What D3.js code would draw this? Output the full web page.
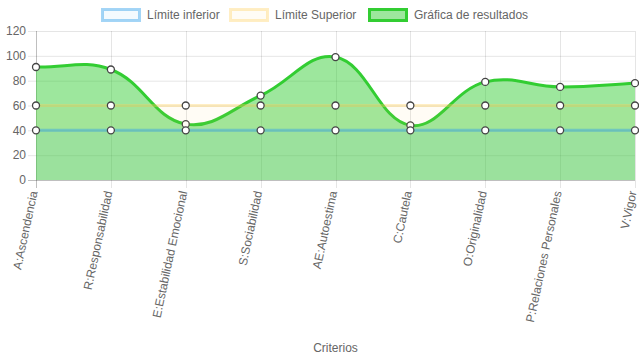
<!DOCTYPE html>
<html><head><meta charset="utf-8">
<script src="https://cdn.jsdelivr.net/npm/d3@7/dist/d3.min.js"></script>
<style>body{margin:0;background:#fff}svg{display:block;font-family:"Liberation Sans",Arial,sans-serif}</style>
</head><body><svg id="c" width="639" height="360"></svg>
<script>
const categories = ["A:Ascendencia","R:Responsabilidad","E:Estabilidad Emocional","S:Sociabilidad","AE:Autoestima","C:Cautela","O:Originalidad","P:Relaciones Personales","V:Vigor"];
const lowerLimit = [40,40,40,40,40,40,40,40,40];
const upperLimit = [60,60,60,60,60,60,60,60,60];
const results = [91,89,45,68,99,44,79,75,78];
const yTicks = [0,20,40,60,80,100,120];
const seriesNames = ["Límite inferior","Límite Superior","Gráfica de resultados"];

const svg = d3.select("#c");
const L = 36, R = 635, T = 31, B = 180;
const x = d3.scalePoint().domain(categories).range([L, R]);
const y = d3.scaleLinear().domain([0,120]).range([B, T]);
const txt = "#666";

// grid
const g = svg.append("g");
yTicks.forEach(v => {
  g.append("line").attr("x1", L-8).attr("x2", R).attr("y1", y(v)+0.5).attr("y2", y(v)+0.5)
   .attr("stroke", v===0 ? "rgba(0,0,0,0.25)" : "rgba(0,0,0,0.1)");
  g.append("text").attr("x", L-10).attr("y", y(v)).attr("dy","0.35em").attr("text-anchor","end")
   .attr("fill", txt).attr("font-size", 12).text(v);
});
categories.forEach((c,i) => {
  const xx = Math.round(x(c))+0.5;
  g.append("line").attr("x1", xx).attr("x2", xx).attr("y1", T).attr("y2", B+8)
   .attr("stroke", i===0 ? "rgba(0,0,0,0.25)" : "rgba(0,0,0,0.1)");
  g.append("text").attr("transform", `translate(${x(c)-2.5},${B+11}) rotate(-78)`)
   .attr("text-anchor","end").attr("dy","0.35em").attr("fill", txt).attr("font-size", 12).text(c);
});
svg.append("text").attr("x", (L+R)/2).attr("y", 352).attr("text-anchor","middle")
  .attr("fill", txt).attr("font-size", 12).text("Criterios");

// Chart.js-style spline
function splinePath(vals) {
  const pts = vals.map((v,i) => ({x: x(categories[i]), y: y(v)}));
  const t = 0.4;
  pts.forEach((p,i) => {
    const a = pts[Math.max(0,i-1)], b = pts[Math.min(pts.length-1,i+1)];
    const d01 = Math.hypot(p.x-a.x, p.y-a.y), d12 = Math.hypot(b.x-p.x, b.y-p.y);
    let s01 = d01/(d01+d12), s12 = d12/(d01+d12);
    if (isNaN(s01)) s01 = 0; if (isNaN(s12)) s12 = 0;
    const fa = t*s01, fb = t*s12;
    p.px = p.x - fa*(b.x-a.x); p.py = p.y - fa*(b.y-a.y);
    p.nx = p.x + fb*(b.x-a.x); p.ny = p.y + fb*(b.y-a.y);
    p.px = Math.max(L, Math.min(R, p.px)); p.nx = Math.max(L, Math.min(R, p.nx));
    p.py = Math.max(T, Math.min(B, p.py)); p.ny = Math.max(T, Math.min(B, p.ny));
  });
  const path = d3.path();
  path.moveTo(pts[0].x, pts[0].y);
  for (let i=1;i<pts.length;i++){
    const a = pts[i-1], b = pts[i];
    path.bezierCurveTo(a.nx, a.ny, b.px, b.py, b.x, b.y);
  }
  return {d: path.toString(), pts};
}

const datasets = [
  {vals: lowerLimit, border: "rgba(54,162,235,0.45)", fill: "rgba(54,162,235,0.06)"},
  {vals: upperLimit, border: "rgba(255,206,86,0.35)", fill: "rgba(255,206,86,0.06)"},
  {vals: results, border: "rgb(50,205,50)", fill: "rgba(50,205,50,0.48)"}
];

const plot = svg.append("g");
for (let k = datasets.length-1; k >= 0; k--) {
  const ds = datasets[k];
  const sp = splinePath(ds.vals);
  const area = sp.d + `L${sp.pts[sp.pts.length-1].x},${y(0)}L${sp.pts[0].x},${y(0)}Z`;
  plot.append("path").attr("d", area).attr("fill", ds.fill);
  plot.append("path").attr("d", sp.d).attr("fill","none").attr("stroke", ds.border).attr("stroke-width", 3);
  plot.selectAll(null).data(sp.pts).enter().append("circle")
    .attr("cx", d=>d.x).attr("cy", d=>d.y).attr("r", 3.5)
    .attr("fill","#fff").attr("stroke","#444").attr("stroke-width",1.3);
}

// legend
const legendX = [101, 229, 368];
const leg = svg.append("g");
datasets.forEach((ds,i) => {
  leg.append("rect").attr("x", legendX[i]+1.5).attr("y", 9.5).attr("width", 37).attr("height", 11)
    .attr("fill", ds.fill).attr("stroke", ds.border).attr("stroke-width", 3);
  leg.append("text").attr("x", legendX[i]+46).attr("y", 15).attr("dy","0.35em")
    .attr("fill", txt).attr("font-size", 12).text(seriesNames[i]);
});
</script></body></html>
